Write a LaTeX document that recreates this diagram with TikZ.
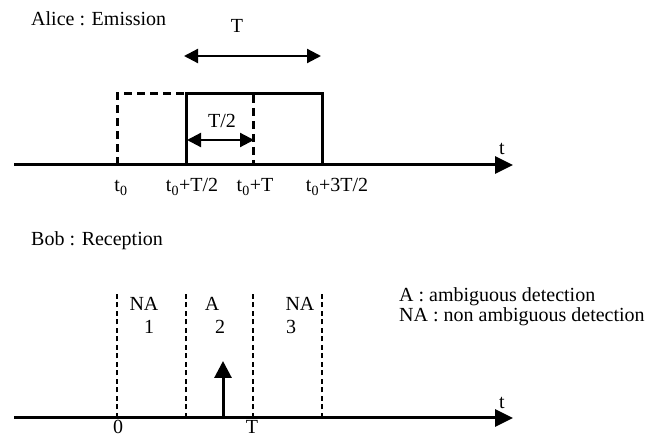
\documentclass[tikz,border=0pt]{standalone}
\usepackage{fontspec}
\setmainfont{Liberation Serif}
\usetikzlibrary{arrows.meta}
\definecolor{inkblack}{HTML}{000000}

\begin{document}
\begin{tikzpicture}[x=1pt,y=-1pt,
  lbl/.style={inner sep=0pt,anchor=base,text=inkblack,font=\fontsize{20}{24}\selectfont},
  lbll/.style={lbl,anchor=base west},
  timeaxis/.style={inkblack,line width=3pt,-{Triangle[length=18pt,width=17pt]}},
  pulse/.style={inkblack,line width=3pt},
  ghost/.style={inkblack,line width=3pt,dash pattern=on 8pt off 5pt},
  slot/.style={inkblack,line width=2.2pt,dash pattern=on 5pt off 3.5pt},
  span/.style={inkblack,line width=2.2pt,{Triangle[length=14pt,width=14pt]}-{Triangle[length=14pt,width=14pt]}},
  hit/.style={inkblack,line width=3pt,-{Triangle[length=17pt,width=17pt]}}]
  \useasboundingbox (0,0) rectangle (662,438);

  % Alice
  \node[lbll] (alice) at (31,26) {Alice : Emission};
  \coordinate (a0) at (14,165);
  \coordinate (a1) at (513,165);
  \draw[ghost] (117,165) -- (117,94) -- (253,94) -- (253,165);
  \draw[pulse] (186,165) -- (186,94) -- (322,94) -- (322,165);
  \draw[timeaxis] (a0) -- (a1);
  \node[lbl] (ta) at (502,155) {t};
  \coordinate (Tl) at (184,56);
  \coordinate (Tr) at (321,56);
  \draw[span] (Tl) -- (Tr);
  \node[lbl] (Tlab) at (237,33) {T};
  \coordinate (hl) at (187,140);
  \coordinate (hr) at (254,140);
  \draw[span] (hl) -- (hr);
  \node[lbl] (hlab) at (222,128) {T/2};
  \node[lbl] (s0) at (121,192) {t\textsubscript{0}};
  \node[lbl] (s1) at (192,192) {t\textsubscript{0}+T/2};
  \node[lbl] (s2) at (255,192) {t\textsubscript{0}+T};
  \node[lbl] (s3) at (337,192) {t\textsubscript{0}+3T/2};

  % Bob
  \node[lbll] (bob) at (31,246) {Bob : Reception};
  \coordinate (b0) at (14,418);
  \coordinate (b1) at (513,418);
  \foreach \x in {117,186,253,322}
    \draw[slot] (\x,418) -- (\x,292);
  \draw[timeaxis] (b0) -- (b1);
  \node[lbl] (tb) at (502,409) {t};
  \coordinate (p0) at (223,418);
  \coordinate (p1) at (223,361);
  \draw[hit] (p0) -- (p1);
  \node[lbl] (na1) at (144,311) {NA};
  \node[lbl] (amb) at (212,311) {A};
  \node[lbl] (na3) at (300,311) {NA};
  \node[lbl] (n1) at (149,334) {1};
  \node[lbl] (n2) at (220,334) {2};
  \node[lbl] (n3) at (291,334) {3};
  \node[lbl] (zero) at (118,434) {0};
  \node[lbl] (Tb) at (252,434) {T};
  \node[lbll] (keyA) at (399,302) {A : ambiguous detection};
  \node[lbll] (keyNA) at (399,322) {NA : non ambiguous detection};
\end{tikzpicture}
\end{document}
